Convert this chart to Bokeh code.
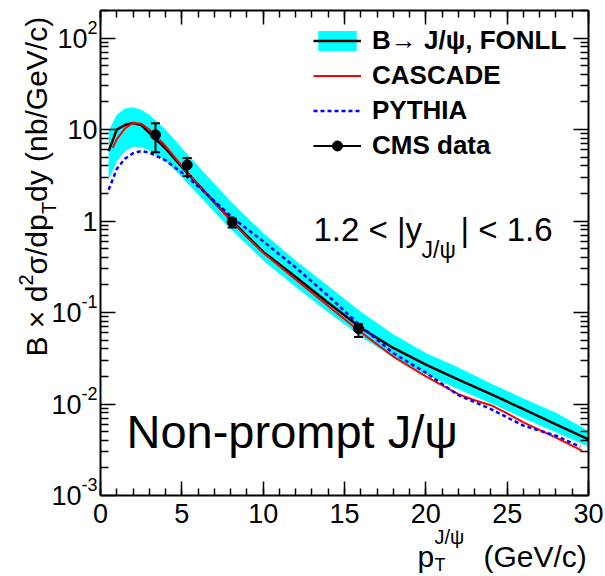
import math
from bokeh.plotting import figure
from bokeh.models import (Range1d, LinearAxis, LogAxis, FixedTicker, SingleIntervalTicker,
                          Label, Legend, LegendItem, Whisker, TeeHead, ColumnDataSource,
                          CustomJSTickFormatter)
from bokeh.embed import file_html
from bokeh.resources import INLINE

# ---------------- data ----------------
pt_fonll = [0.5, 1, 1.5, 2, 2.5, 3, 4, 5, 6, 7, 8, 9, 10, 12, 14, 16, 18, 20, 22, 24, 26, 28, 30]
fonll_central = [5.8, 10.0, 11.2, 11.8, 11.2, 9.2, 6.2, 3.9, 2.5, 1.6, 1.04, 0.69, 0.46, 0.245,
                 0.128, 0.068, 0.041, 0.027, 0.0185, 0.0128, 0.0088, 0.006, 0.0041]
fonll_low = [2.8, 4.5, 5.8, 6.5, 6.4, 5.9, 4.5, 3.0, 1.95, 1.25, 0.82, 0.55, 0.37, 0.19,
             0.10, 0.055, 0.032, 0.021, 0.0145, 0.0102, 0.0070, 0.0049, 0.0034]
fonll_high = [9.7, 14.5, 17.0, 17.5, 16.5, 14.5, 10.0, 6.3, 4.0, 2.55, 1.65, 1.1, 0.74, 0.37,
              0.195, 0.102, 0.058, 0.036, 0.025, 0.0168, 0.0115, 0.0080, 0.0051]

pt_cascade = [0.75, 1, 1.5, 2, 2.5, 3, 4, 5, 6, 7, 8, 9, 10, 12, 14, 16, 18, 20, 22, 23, 24, 25, 26, 28, 29.6]
cascade = [6.3, 7.8, 10.3, 11.8, 11.6, 10.0, 6.6, 4.0, 2.5, 1.6, 1.02, 0.67, 0.45, 0.23, 0.118,
           0.061, 0.033, 0.020, 0.0128, 0.0110, 0.0097, 0.0079, 0.0063, 0.0043, 0.0031]

pt_pythia = [0.5, 1, 1.5, 2, 2.5, 3, 4, 5, 6, 7, 8, 9, 10, 12, 14, 16, 18, 20, 22, 24, 26, 28, 29.5]
pythia = [2.2, 3.7, 4.8, 5.5, 5.8, 5.6, 4.6, 3.4, 2.4, 1.65, 1.13, 0.82, 0.60, 0.31, 0.152,
          0.071, 0.036, 0.022, 0.0125, 0.0088, 0.0058, 0.0045, 0.0034]

cms_pt = [3.38, 5.33, 8.09, 15.86]
cms_val = [8.75, 4.1, 0.98, 0.0665]
cms_low = [5.65, 3.1, 0.85, 0.054]
cms_high = [11.7, 4.9, 1.07, 0.075]

x_min, x_max = 0, 30
y_min, y_max = 1e-3, 200
y_tick_values = [1e-3, 1e-2, 1e-1, 1, 10, 100]
y_tick_base = ["10", "10", "10", "1", "10", "10"]
y_tick_exp = ["-3", "-2", "-1", "", "", "2"]

legend_labels = ["B\u2192 J/\u03c8, FONLL", "CASCADE", "PYTHIA", "CMS data"]

# ---------------- layout ----------------
W, H = 605, 576
FL, FR, FT, FB = 100, 588, 10, 495      # pixel box of the axes
FONT = "Liberation Sans"

kx = (FR - FL) / (x_max - x_min)
ky = (FB - FT) / (math.log10(y_max) - math.log10(y_min))
xr = Range1d(x_min - FL / kx, x_max + (W - FR) / kx)
yr = Range1d(10 ** (math.log10(y_min) - (H - FB) / ky), 10 ** (math.log10(y_max) + FT / ky))


def sx(cx):
    return cx


def sy(cy):
    return H - cy


p = figure(width=W, height=H, x_range=xr, y_range=yr, y_axis_type="log",
           output_backend="svg", toolbar_location=None,
           min_border_left=0, min_border_right=0, min_border_top=0, min_border_bottom=0)
p.grid.visible = False
p.outline_line_color = None
p.background_fill_color = "white"
p.border_fill_color = "white"

x_ticker = SingleIntervalTicker(interval=5, num_minor_ticks=5)
minor_y = [m * 10.0 ** k for k in range(-3, 3) for m in range(2, 10) if m * 10.0 ** k <= y_max]
y_ticker = FixedTicker(ticks=y_tick_values, minor_ticks=minor_y)


def style_axis(ax, major_len, minor_len, labels, loc, bounds):
    ax.fixed_location = loc
    ax.bounds = bounds
    ax.major_tick_in = major_len
    ax.major_tick_out = 0
    ax.minor_tick_in = minor_len
    ax.minor_tick_out = 0
    ax.axis_line_width = 2
    ax.axis_line_color = "black"
    ax.major_tick_line_width = 1.5
    ax.minor_tick_line_width = 1.5
    ax.major_tick_line_color = "black"
    ax.minor_tick_line_color = "black"
    ax.major_label_text_font = FONT
    ax.major_label_text_font_size = "27px"
    ax.major_label_text_color = "black"
    if labels:
        ax.major_label_standoff = 8
    else:
        ax.formatter = CustomJSTickFormatter(code="return '';")
        ax.major_label_standoff = 0


p.xaxis.ticker = x_ticker
style_axis(p.xaxis[0], 14, 7, True, y_min, (x_min, x_max))
p.yaxis.ticker = y_ticker
style_axis(p.yaxis[0], 15, 8, False, x_min, (y_min, y_max))

top_axis = LinearAxis(ticker=x_ticker)
style_axis(top_axis, 14, 7, False, y_max, (x_min, x_max))
p.add_layout(top_axis, "above")
right_axis = LogAxis(ticker=y_ticker)
style_axis(right_axis, 15, 8, False, x_max, (y_min, y_max))
p.add_layout(right_axis, "right")

# ---------------- data glyphs ----------------
band = p.varea(x=pt_fonll, y1=fonll_low, y2=fonll_high, fill_color="#00FFFF", fill_alpha=1.0)
fonll_line = p.line(pt_fonll, fonll_central, line_color="black", line_width=2.5)
cascade_line = p.line(pt_cascade, cascade, line_color="#FF0000", line_width=2)
pythia_line = p.line(pt_pythia, pythia, line_color="#0000FF", line_width=2.5, line_dash="4 3")

src = ColumnDataSource(dict(x=cms_pt, y=cms_val, lo=cms_low, hi=cms_high))
p.add_layout(Whisker(base="x", lower="lo", upper="hi", source=src, line_width=2,
                     line_color="black", level="overlay",
                     upper_head=TeeHead(size=9, line_width=2, line_color="black"),
                     lower_head=TeeHead(size=9, line_width=2, line_color="black")))
cms_pts = p.scatter("x", "y", source=src, size=10, color="black")
cms_leg_line = p.line(x=[x_min], y=[yr.start / 10], line_color="black", line_width=2)
cms_leg_dot = p.scatter(x=[x_min], y=[yr.start / 10], size=7, color="black")

# ---------------- texts (anchored at the vertical middle of the glyphs) ----------------
for v, b, e in zip(y_tick_values, y_tick_base, y_tick_exp):
    supw = len(e) and (16 if e.startswith("-") else 10)
    p.add_layout(Label(x=sx(97 - supw), y=v, x_units="screen", y_units="data", text=b,
                       text_font=FONT, text_font_size="27px", text_align="right",
                       text_baseline="middle", text_color="black"))
    if e:
        p.add_layout(Label(x=sx(97 - supw), y=v, x_units="screen", y_units="data", text=e,
                           text_font=FONT, text_font_size="18px", text_align="left",
                           text_baseline="middle", y_offset=11, text_color="black"))


def txt(text, cx, cy, size, angle=0.0, align="left"):
    p.add_layout(Label(x=sx(cx), y=sy(cy), x_units="screen", y_units="screen", text=text,
                       text_font=FONT, text_font_size=f"{size}px", text_align=align,
                       text_baseline="middle", angle=angle, text_color="black"))


R = math.pi / 2
txt("B \u00d7 d", 36, 356, 30, R)
txt("2", 25, 285, 20, R)
txt("\u03c3/dp", 36, 274, 30, R)
txt("T", 48, 213.6, 20, R)
txt("dy (nb/GeV/c)", 36, 201.4, 30, R)

txt("p", 417, 555.5, 30)
txt("J/\u03c8", 434, 536, 20)
txt("T", 434, 564, 18)
txt("(GeV/c)", 483, 555.5, 30)

txt("1.2 < |y", 313, 229, 33)
txt("J/\u03c8", 421, 249, 23)
txt("| < 1.6", 460, 229, 33)
txt("Non-prompt J/\u03c8", 126, 431, 47)

legend = Legend(items=[
    LegendItem(label=legend_labels[0], renderers=[band, fonll_line]),
    LegendItem(label=legend_labels[1], renderers=[cascade_line]),
    LegendItem(label=legend_labels[2], renderers=[pythia_line]),
    LegendItem(label=legend_labels[3], renderers=[cms_leg_line, cms_leg_dot]),
], location=(sx(313), sy(160.5)), orientation="vertical", glyph_width=48, glyph_height=25,
    label_height=25, spacing=4, padding=0, margin=0, label_standoff=11,
    label_text_font=FONT, label_text_font_style="bold", label_text_font_size="26px",
    label_text_color="black", border_line_alpha=0, background_fill_alpha=0)
p.add_layout(legend)

open("out.html", "w").write(file_html(p, INLINE))
